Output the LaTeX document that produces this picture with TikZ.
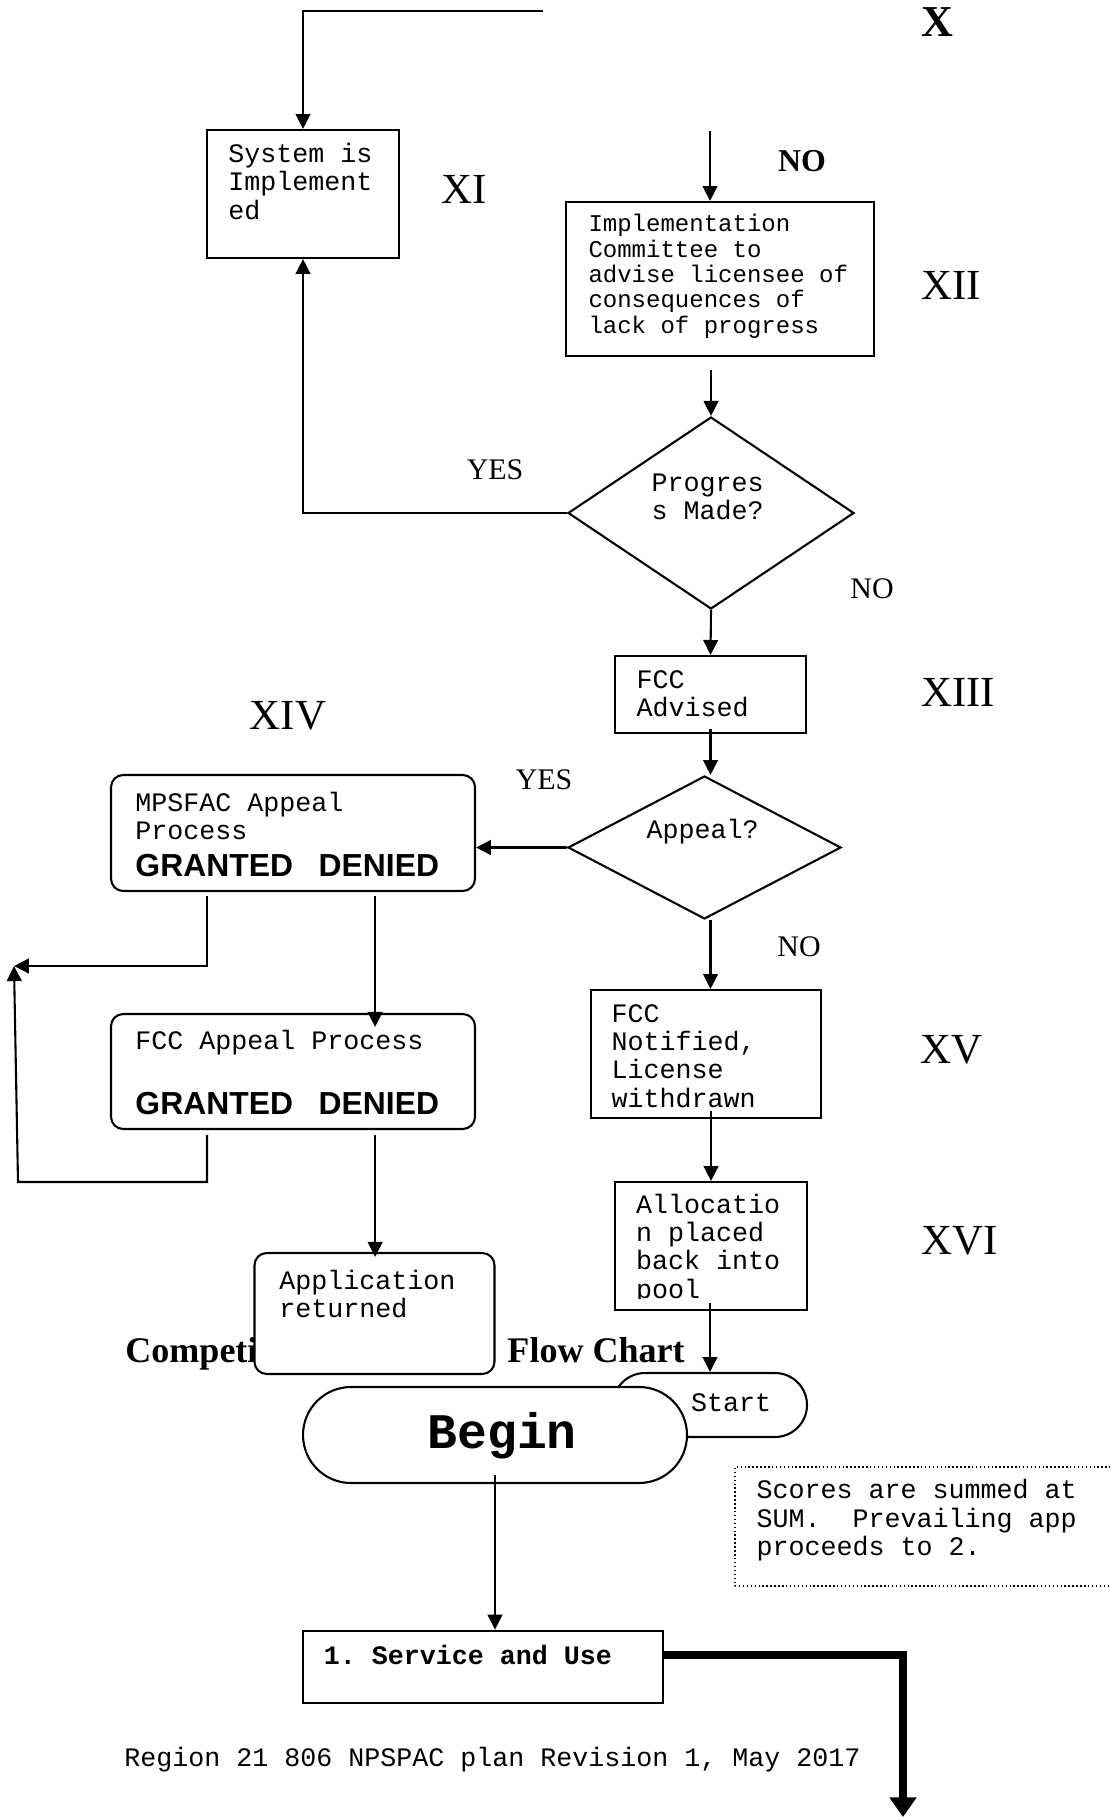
\documentclass[tikz,border=0pt]{standalone}
\usepackage{fontspec}
\setmainfont{Liberation Serif}
\newfontfamily\cour{Liberation Mono}
\newfontfamily\arial{Liberation Sans}
\usetikzlibrary{arrows.meta,shapes.geometric,shapes.misc}
\frenchspacing
\begin{document}
\begin{tikzpicture}[x=0.408pt,y=-0.408pt,
  box/.style={draw,fill=white,inner sep=0pt,line width=0.85pt,rectangle},
  rbox/.style={box,rounded corners=5pt},
  term/.style={draw,fill=white,inner sep=0pt,line width=0.85pt,rounded rectangle},
  dia/.style={draw,fill=white,inner sep=0pt,line width=0.85pt,diamond},
  conn/.style={line width=0.85pt,-{Triangle[length=6.1pt,width=6pt]}},
  tx/.style={anchor=base west,inner sep=0pt,font=\cour\fontsize{10.88pt}{13pt}\selectfont},
  txs/.style={anchor=base west,inner sep=0pt,font=\cour\fontsize{9.8pt}{12pt}\selectfont},
  gd/.style={anchor=base west,inner sep=0pt,font=\arial\bfseries\fontsize{13pt}{15pt}\selectfont},
  rn/.style={inner sep=0pt,font=\fontsize{17.5pt}{20pt}\selectfont},
  yn/.style={inner sep=0pt,font=\fontsize{12.2pt}{14pt}\selectfont},
  ttl/.style={inner sep=0pt,font=\bfseries\fontsize{14.7pt}{17pt}\selectfont},
]
\useasboundingbox (0,0) rectangle (1109,1817);

% ---------- shapes ----------
\node[box,minimum width=78.34pt,minimum height=52.22pt] (XI) at (303,194) {};
\node[box,minimum width=125.66pt,minimum height=62.83pt] (XII) at (720,279) {};
\node[dia,minimum width=116.69pt,minimum height=78.34pt] (D1) at (711,513) {};
\node[box,minimum width=77.93pt,minimum height=31.42pt] (FA) at (710.5,694.5) {};
\node[dia,minimum width=111.38pt,minimum height=58.34pt] (D2) at (704.5,847.5) {};
\node[rbox,minimum width=148.51pt,minimum height=47.33pt] (MP) at (293,833) {};
\node[rbox,minimum width=148.51pt,minimum height=46.92pt] (FAP) at (293,1071.5) {};
\node[box,minimum width=93.84pt,minimum height=52.22pt] (FN) at (706,1054) {};
\node[box,minimum width=78.54pt,minimum height=52.22pt] (AL) at (711,1246) {};

% title (partly hidden by the Application box)
\node[ttl,anchor=base east] (ttlA) at (258,1362) {Competi};
\node[ttl,anchor=base west] (ttlB) at (507,1362) {Flow Chart};

\node[rbox,minimum width=97.92pt,minimum height=49.37pt] (AR) at (374.5,1313.5) {};
\node[term,minimum width=79.15pt,minimum height=26.11pt] (ST) at (710,1405) {};
\node[term,minimum width=156.67pt,minimum height=39.17pt] (BG) at (495,1435) {};
\node[box,minimum width=146.88pt,minimum height=29.38pt] (SV) at (482.6,1666.7) {};
\node[draw,densely dotted,line width=0.6pt,inner sep=0pt,minimum width=161.16pt,minimum height=48.55pt] (SC) at (932.5,1526.5) {};

% ---------- coordinates ----------
\coordinate (xin) at (543,11);
\coordinate (noin) at (710,131);
\coordinate (J) at (14,966);
\coordinate (lc) at (18,1182);
\coordinate (endc) at (903,1817);

% ---------- connectors ----------
\draw[conn] (xin) -| (XI.north);
\draw[conn] (noin) -- (noin |- XII.north);
\draw[conn,shorten <=5.3pt] (XII.south -| D1.north) -- (D1.north);
\draw[conn] (D1.west) -| (XI.south);
\draw[conn] (D1.south) -- (FA.north);
\draw[conn] ([yshift=2pt]FA.south) -- (FA.south |- D2.north);
\draw[conn,line width=1.1pt] (D2.west) -- (D2.west -| MP.east);
\draw[conn] (D2.south -| FA.south) -- (FA.south |- FN.north);
\draw[conn] ([yshift=3.3pt]FN.south -| AL.north) -- (AL.north);
\draw[conn] ([yshift=3.3pt]AL.south -| ST.north) -- (ST.north);
\draw[conn] ([xshift=-35.1pt,yshift=-1.6pt]MP.south) |- (J);
\draw[conn] ([xshift=-35.1pt,yshift=-2pt]FAP.south) |- (lc) -- (J);
\draw[conn] ([xshift=33.5pt,yshift=-1.6pt]MP.south) -- ([xshift=33.5pt,yshift=-5.7pt]FAP.north);
\draw[conn] ([xshift=33.5pt,yshift=-2pt]FAP.south) -- ([xshift=33.5pt,yshift=-2pt]FAP.south |- AR.north);
\draw[conn] ([yshift=3.7pt]BG.south) -- (BG.south |- SV.north);
\draw[line width=3pt,-{Triangle[length=8pt,width=10.6pt]}] ([yshift=4.8pt]SV.east) -| (endc);

% ---------- texts in shapes ----------
\foreach \t [count=\i from 0] in {System is,Implement,ed}
  \node[tx] (xiT\i) at (228,{162.3+28.5*\i}) {\t};
\foreach \t [count=\i from 0] in {Implementation,Committee to,advise licensee of,consequences of,lack of progress}
  \node[txs] (xiiT\i) at (588,{231.7+25.4*\i}) {\t};
\foreach \t [count=\i from 0] in {Progres,s Made?}
  \node[tx] (d1T\i) at (651,{492+28*\i}) {\t};
\foreach \t [count=\i from 0] in {FCC,Advised}
  \node[tx] (faT\i) at (636,{688+28.7*\i}) {\t};
\node[tx] (d2T) at (646,838) {Appeal?};
\node[tx] (mpT0) at (135,811) {MPSFAC Appeal};
\node[tx] (mpT1) at (135,839) {Process};
\node[gd] (mpG) at (135,876) {GRANTED\hspace{10.5pt}DENIED};
\node[tx] (fapT) at (135,1049) {FCC Appeal Process};
\node[gd] (fapG) at (135,1114) {GRANTED\hspace{10.5pt}DENIED};
\foreach \t [count=\i from 0] in {FCC,{Notified,},License,withdrawn}
  \node[tx] (fnT\i) at (611,{1022+28.4*\i}) {\t};
\begin{scope}
  \clip (614,1182) rectangle (807,1298.5);
  \foreach \t [count=\i from 0] in {Allocatio,n placed,back into,pool}
    \node[tx] (alT\i) at (635.5,{1213+28.4*\i}) {\t};
\end{scope}
\node[tx] (arT0) at (279,1289) {Application};
\node[tx] (arT1) at (279,1317) {returned};
\node[tx] (stT) at (690.7,1411.7) {Start};
\node[anchor=base west,inner sep=0pt,font=\cour\bfseries\fontsize{20.3pt}{24pt}\selectfont] (bgT) at (427,1448) {Begin};
\node[anchor=base west,inner sep=0pt,font=\cour\bfseries\fontsize{10.88pt}{13pt}\selectfont] (svT) at (323.5,1664) {1. Service and Use};
\node[tx] (scT0) at (756,1498) {Scores are summed at};
\node[tx] (scT1) at (756,1527) {SUM.\ \ Prevailing app};
\node[tx] (scT2) at (756,1555) {proceeds to 2.};

% ---------- labels ----------
\node[inner sep=0pt,font=\bfseries\fontsize{18pt}{20pt}\selectfont] (lX) at (937,22) {X};
\node[rn] (lXI) at (464,189) {XI};
\node[rn] (lXII) at (951,285) {XII};
\node[rn] (lXIII) at (958,692) {XIII};
\node[rn] (lXIV) at (288,716) {XIV};
\node[rn] (lXV) at (951.5,1050) {XV};
\node[rn] (lXVI) at (960,1241) {XVI};
\node[inner sep=0pt,font=\bfseries\fontsize{13pt}{15pt}\selectfont] (lNO1) at (802,161) {NO};
\node[yn] (lYES1) at (495,470) {YES};
\node[yn] (lNO2) at (872,589) {NO};
\node[yn] (lYES2) at (544,780) {YES};
\node[yn] (lNO3) at (799,947) {NO};

% footer
\node[anchor=base west,inner sep=0pt,font=\cour\fontsize{10.88pt}{13pt}\selectfont] (foot) at (124,1766.7) {Region 21 806 NPSPAC plan Revision 1, May 2017};
\end{tikzpicture}
\end{document}
